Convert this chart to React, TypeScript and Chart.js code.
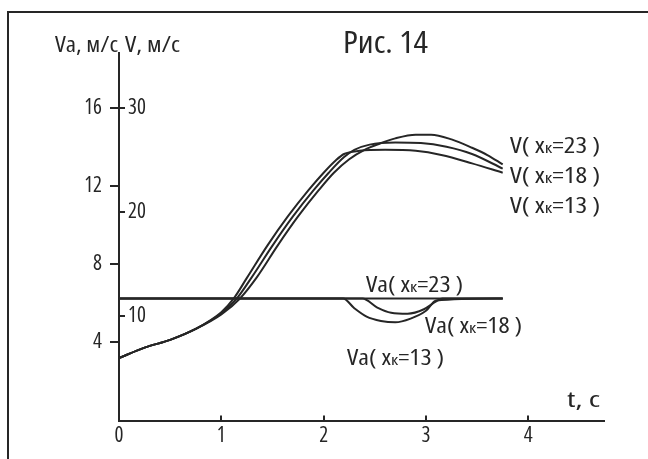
import React, { useEffect, useRef } from "react";
import { Chart, registerables } from "chart.js";

Chart.register(...registerables);

// ---- axis ticks ----
const tickT = [0, 1, 2, 3, 4];
const tickVa = [4, 8, 12, 16];
const tickV = [10, 20, 30];

// ---- V curves (right-hand scale, m/s) ----
const tV13 = [0, 0.25, 0.5, 0.75, 1.0, 1.12, 1.25, 1.45, 1.65, 1.85, 2.0, 2.12, 2.2, 2.35, 2.6, 2.9, 3.15, 3.45, 3.75];
const vV13 = [6.0, 7.0, 7.75, 8.8, 10.4, 11.7, 13.7, 16.8, 19.6, 22.1, 23.8, 25.0, 25.6, 25.9, 26.0, 25.9, 25.5, 24.7, 23.8];

const tV18 = [0, 0.25, 0.5, 0.75, 1.0, 1.15, 1.3, 1.5, 1.7, 1.9, 2.05, 2.2, 2.3, 2.45, 2.7, 2.95, 3.2, 3.45, 3.75];
const vV18 = [6.0, 7.0, 7.75, 8.8, 10.3, 11.7, 13.8, 16.8, 19.6, 22.1, 23.8, 25.3, 26.0, 26.5, 26.7, 26.65, 26.3, 25.6, 24.2];

const tV23 = [0, 0.25, 0.5, 0.75, 1.0, 1.18, 1.35, 1.55, 1.75, 1.95, 2.1, 2.25, 2.4, 2.55, 2.7, 2.9, 3.05, 3.25, 3.45, 3.6, 3.75];
const vV23 = [6.0, 7.0, 7.75, 8.8, 10.2, 11.7, 13.8, 16.8, 19.6, 22.1, 23.8, 25.1, 26.0, 26.6, 27.1, 27.45, 27.45, 27.0, 26.2, 25.5, 24.6];

// ---- Va curves (left-hand scale, m/s) ----
const tVa23 = [0, 3.75];
const vVa23 = [6.25, 6.25];

const tVa18 = [0, 2.38, 2.52, 2.66, 2.82, 2.98, 3.1, 3.16, 3.75];
const vVa18 = [6.25, 6.25, 5.8, 5.52, 5.47, 5.7, 6.1, 6.25, 6.25];

const tVa13 = [0, 2.19, 2.3, 2.42, 2.56, 2.7, 2.85, 3.0, 3.1, 3.75];
const vVa13 = [6.25, 6.25, 5.75, 5.32, 5.1, 5.03, 5.22, 5.62, 6.15, 6.25];

// ---- texts ----
const titleText = "Рис. 14";
const vaAxisTitle = "Va, м/с";
const vAxisTitle = "V, м/с";
const tAxisTitle = "t, c";
const vLabels = ["23", "18", "13"];
const vaLabels = ["23", "18", "13"];

const T_MAX = 4.74;
const V_MAX = 35.3;
const RATIO = 1.875; // V = RATIO * Va on the shared vertical axis

const FONT = '"Open Sans", "DejaVu Sans Condensed", sans-serif';
const INK = "#262626";

export default function App() {
  const ref = useRef<HTMLCanvasElement>(null);

  useEffect(() => {
    const canvas = ref.current;
    if (!canvas) return;

    const pts = (t: number[], v: number[]) => t.map((x, i) => ({ x, y: v[i] }));
    const ds = (label: string, t: number[], v: number[], axis: string) => ({
      label,
      data: pts(t, v),
      yAxisID: axis,
      borderColor: INK,
      borderWidth: 2,
      pointRadius: 0,
      cubicInterpolationMode: "monotone" as const,
      fill: false,
    });

    // text fitted horizontally to a width (the source uses a narrow typeface)
    type Run = { s: string; size: number; dy?: number };
    const fontOf = (size: number) => `condensed ${size}px ${FONT}`;
    const fitRuns = (ctx: CanvasRenderingContext2D, runs: Run[], x: number, y: number, width: number) => {
      let natural = 0;
      const widths = runs.map((r) => {
        ctx.font = fontOf(r.size);
        const w = ctx.measureText(r.s).width;
        natural += w;
        return w;
      });
      const k = width / natural;
      ctx.save();
      ctx.translate(x, y);
      ctx.scale(k, 1);
      let cx = 0;
      runs.forEach((r, i) => {
        ctx.font = fontOf(r.size);
        ctx.fillText(r.s, cx, r.dy || 0);
        cx += widths[i];
      });
      ctx.restore();
    };
    const seriesLabel = (ctx: CanvasRenderingContext2D, head: string, num: string, x: number, y: number, width: number) =>
      fitRuns(ctx, [
        { s: head + "( x", size: 21 },
        { s: "к", size: 15 },
        { s: "=" + num + " )", size: 21 },
      ], x, y, width);

    const decor = {
      id: "decor",
      beforeDraw(chart: any) {
        const ctx: CanvasRenderingContext2D = chart.ctx;
        ctx.save();
        ctx.fillStyle = "#ffffff";
        ctx.fillRect(0, 0, chart.width, chart.height);
        ctx.strokeStyle = INK;
        ctx.lineWidth = 2;
        ctx.beginPath();
        ctx.moveTo(8, chart.height);
        ctx.lineTo(8, 12);
        ctx.lineTo(chart.width, 12);
        ctx.stroke();
        ctx.restore();
      },
      afterDraw(chart: any) {
        const ctx: CanvasRenderingContext2D = chart.ctx;
        const { chartArea, scales } = chart;
        const sx = scales.x, sy = scales.y, sa = scales.ya;
        ctx.save();
        ctx.strokeStyle = INK;
        ctx.lineWidth = 2;
        const seg = (x1: number, y1: number, x2: number, y2: number) => {
          ctx.beginPath();
          ctx.moveTo(x1, y1);
          ctx.lineTo(x2, y2);
          ctx.stroke();
        };
        tickT.slice(1).forEach((v) => {
          const px = Math.round(sx.getPixelForValue(v));
          seg(px, chartArea.bottom, px, chartArea.bottom - 5);
        });
        tickVa.forEach((v) => {
          const py = Math.round(sa.getPixelForValue(v));
          seg(chartArea.left - 9, py, chartArea.left, py);
        });
        tickV.forEach((v) => {
          const py = Math.round(sy.getPixelForValue(v));
          seg(chartArea.left, py, chartArea.left + 6, py);
        });

        ctx.fillStyle = INK;
        ctx.textAlign = "left";
        ctx.textBaseline = "alphabetic";
        fitRuns(ctx, [{ s: titleText, size: 31 }], 343, 53, 85);
        fitRuns(ctx, [{ s: vaAxisTitle, size: 21 }], 55, 52, 63);
        fitRuns(ctx, [{ s: vAxisTitle, size: 21 }], 125, 52, 55);
        fitRuns(ctx, [{ s: tAxisTitle, size: 21 }], 567, 407, 33);
        seriesLabel(ctx, "V", vLabels[0], 510, 153, 90);
        seriesLabel(ctx, "V", vLabels[1], 510, 183, 90);
        seriesLabel(ctx, "V", vLabels[2], 510, 213, 90);
        seriesLabel(ctx, "Va", vaLabels[0], 366, 292, 97);
        seriesLabel(ctx, "Va", vaLabels[1], 425, 333, 97);
        seriesLabel(ctx, "Va", vaLabels[2], 347, 365, 97);
        ctx.restore();
      },
    };

    const tickFont = { family: FONT, size: 21, weight: "condensed" };

    const chart = new Chart(canvas, {
      type: "line",
      data: {
        datasets: [
          ds("V(xк=13)", tV13, vV13, "y"),
          ds("V(xк=18)", tV18, vV18, "y"),
          ds("V(xк=23)", tV23, vV23, "y"),
          ds("Va(xк=23)", tVa23, vVa23, "ya"),
          ds("Va(xк=18)", tVa18, vVa18, "ya"),
          ds("Va(xк=13)", tVa13, vVa13, "ya"),
        ],
      },
      options: {
        responsive: false,
        animation: false,
        events: [],
        layout: { padding: { top: 53, right: 44, left: 0, bottom: 0 } },
        plugins: { legend: { display: false }, tooltip: { enabled: false }, title: { display: false } },
        scales: {
          x: {
            type: "linear",
            position: "bottom",
            min: 0,
            max: T_MAX,
            grid: { display: false, drawTicks: false },
            border: { display: true, color: INK, width: 2 },
            ticks: { color: INK, font: tickFont, padding: 3, autoSkip: false, maxRotation: 0 },
            afterBuildTicks: (s: any) => { s.ticks = tickT.map((value) => ({ value })); },
            afterFit: (s: any) => { s.height = 38.5; },
          },
          y: {
            type: "linear",
            position: "left",
            weight: 0,
            min: 0,
            max: V_MAX,
            grid: { display: false, drawTicks: false },
            border: { display: true, color: INK, width: 2 },
            ticks: { color: INK, font: tickFont, mirror: true, padding: 9, autoSkip: false },
            afterBuildTicks: (s: any) => { s.ticks = tickV.map((value) => ({ value })); },
            afterFit: (s: any) => { s.width = 0; },
          },
          ya: {
            type: "linear",
            position: "left",
            weight: 1,
            min: 0,
            max: V_MAX / RATIO,
            grid: { display: false, drawTicks: false },
            border: { display: false },
            ticks: { color: INK, font: tickFont, padding: 17, autoSkip: false },
            afterBuildTicks: (s: any) => { s.ticks = tickVa.map((value) => ({ value })); },
            afterFit: (s: any) => { s.width = 119; },
          },
        },
      } as any,
      plugins: [decor],
    });

    return () => chart.destroy();
  }, []);

  return (
    <div style={{ position: "fixed", left: 0, top: 0, width: 648, height: 459, background: "#fff" }}>
      <canvas ref={ref} width={648} height={459} style={{ display: "block", width: 648, height: 459 }} />
    </div>
  );
}
